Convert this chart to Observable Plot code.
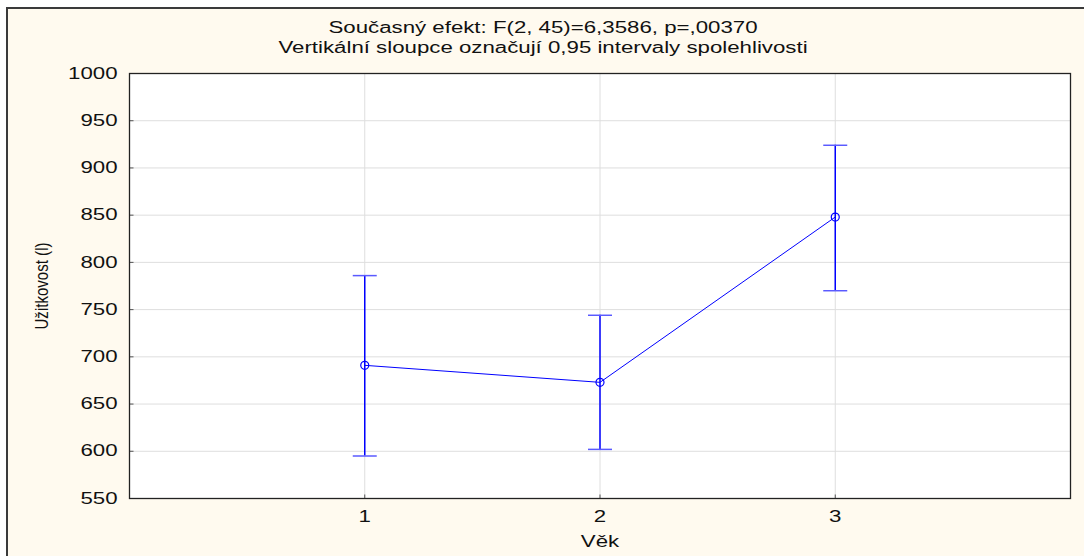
<!DOCTYPE html>
<html>
<head>
<meta charset="utf-8">
<script src="https://cdn.jsdelivr.net/npm/d3@7"></script>
<script src="https://cdn.jsdelivr.net/npm/@observablehq/plot@0.6"></script>
<style>
  html, body { margin: 0; padding: 0; background: #ffffff; width: 1084px; height: 556px; overflow: hidden; }
  #panel { position: absolute; left: 6px; top: 7px; width: 1090px; height: 560px; background: #fffaef; border-left: 2px solid #3a3a3a; border-top: 2px solid #3a3a3a; }
  #chart { position: absolute; left: 0; top: 0; }
  svg { font-family: "Liberation Sans", Arial, sans-serif; }
</style>
</head>
<body>
<div id="panel"></div>
<div id="chart"></div>
<script>
const categories = [1, 2, 3];
const means = [691, 673, 848];
const lower = [595, 602, 770];
const upper = [786, 744, 924];
const yTicks = [550, 600, 650, 700, 750, 800, 850, 900, 950, 1000];
const xTicks = [1, 2, 3];
const titleLines = ["Současný efekt: F(2, 45)=6,3586, p=,00370", "Vertikální sloupce označují 0,95 intervaly spolehlivosti"];
const xLabel = "Věk";
const yLabel = "Užitkovost (l)";

const data = categories.map((c, i) => ({x: c, m: means[i], lo: lower[i], hi: upper[i]}));
const capSymbol = { draw(ctx) { ctx.moveTo(-12, 0); ctx.lineTo(12, 0); } };
const yTickSymbol = { draw(ctx) { ctx.moveTo(0, 0); ctx.lineTo(4, 0); } };
const xTickSymbol = { draw(ctx) { ctx.moveTo(0, 0); ctx.lineTo(0, -4); } };

const chart = Plot.plot({
  width: 1084,
  height: 556,
  marginLeft: 129,
  marginRight: 14,
  marginTop: 73,
  marginBottom: 58,
  style: { background: "transparent", fontFamily: "'Liberation Sans', Arial, sans-serif" },
  x: { domain: [0, 4], ticks: xTicks, tickFormat: d3.format("d") },
  y: { domain: [550, 1000], ticks: yTicks, tickFormat: d3.format("d") },
  marks: [
    Plot.frame({ fill: "white", stroke: null }),
    Plot.gridX(xTicks, { stroke: "#dedede", strokeOpacity: 1 }),
    Plot.gridY(yTicks, { stroke: "#dedede", strokeOpacity: 1 }),
    Plot.axisX(xTicks, { tickSize: 0, tickPadding: 12, fontSize: 16, fill: "#111", label: null, tickFormat: d3.format("d") }),
    Plot.axisY(yTicks, { tickSize: 0, tickPadding: 12, fontSize: 16, fill: "#111", label: null, tickFormat: d3.format("d") }),
    Plot.dot(yTicks, { x: () => 0, y: d => d, symbol: yTickSymbol, stroke: "#555", strokeWidth: 1 }),
    Plot.dot(xTicks, { x: d => d, y: () => 550, symbol: xTickSymbol, stroke: "#555", strokeWidth: 1 }),
    Plot.frame({ stroke: "#222", strokeWidth: 1.3 }),
    Plot.ruleX(data, { x: "x", y1: "lo", y2: "hi", stroke: "#0000ff", strokeWidth: 1.5 }),
    Plot.dot(data, { x: "x", y: "lo", symbol: capSymbol, stroke: "#5a5aff", strokeWidth: 1.5, fill: "none" }),
    Plot.dot(data, { x: "x", y: "hi", symbol: capSymbol, stroke: "#5a5aff", strokeWidth: 1.5, fill: "none" }),
    Plot.line(data, { x: "x", y: "m", stroke: "#0000ff", strokeWidth: 1 }),
    Plot.dot(data, { x: "x", y: "m", r: 4, stroke: "#0000ff", strokeWidth: 1.2, fill: "none" }),
    Plot.text([titleLines[0]], { text: d => d, frameAnchor: "top", lineAnchor: "middle", textAnchor: "middle", dx: -57, dy: -45.5, fontSize: 16, fill: "#111" }),
    Plot.text([titleLines[1]], { text: d => d, frameAnchor: "top", lineAnchor: "middle", textAnchor: "middle", dx: -57, dy: -25.5, fontSize: 16, fill: "#111" }),
    Plot.text([xLabel], { text: d => d, frameAnchor: "bottom", lineAnchor: "middle", textAnchor: "middle", dy: 43, fontSize: 16, fill: "#111" }),
    Plot.text([yLabel], { text: d => d, frameAnchor: "left", lineAnchor: "middle", textAnchor: "middle", dx: -87, rotate: -90, fontSize: 18, fill: "#111" })
  ]
});
document.getElementById("chart").appendChild(chart);

// horizontal stretch of the text to match the reference's wide glyphs
const narrowLabels = new Map([[yLabel, 87]]);
d3.select(chart).selectAll("text").each(function () {
  const el = this;
  const t = el.textContent;
  const natural = el.getComputedTextLength();
  const target = narrowLabels.has(t) ? narrowLabels.get(t) : natural * 1.39;
  el.setAttribute("textLength", target);
  el.setAttribute("lengthAdjust", "spacingAndGlyphs");
});
</script>
</body>
</html>
